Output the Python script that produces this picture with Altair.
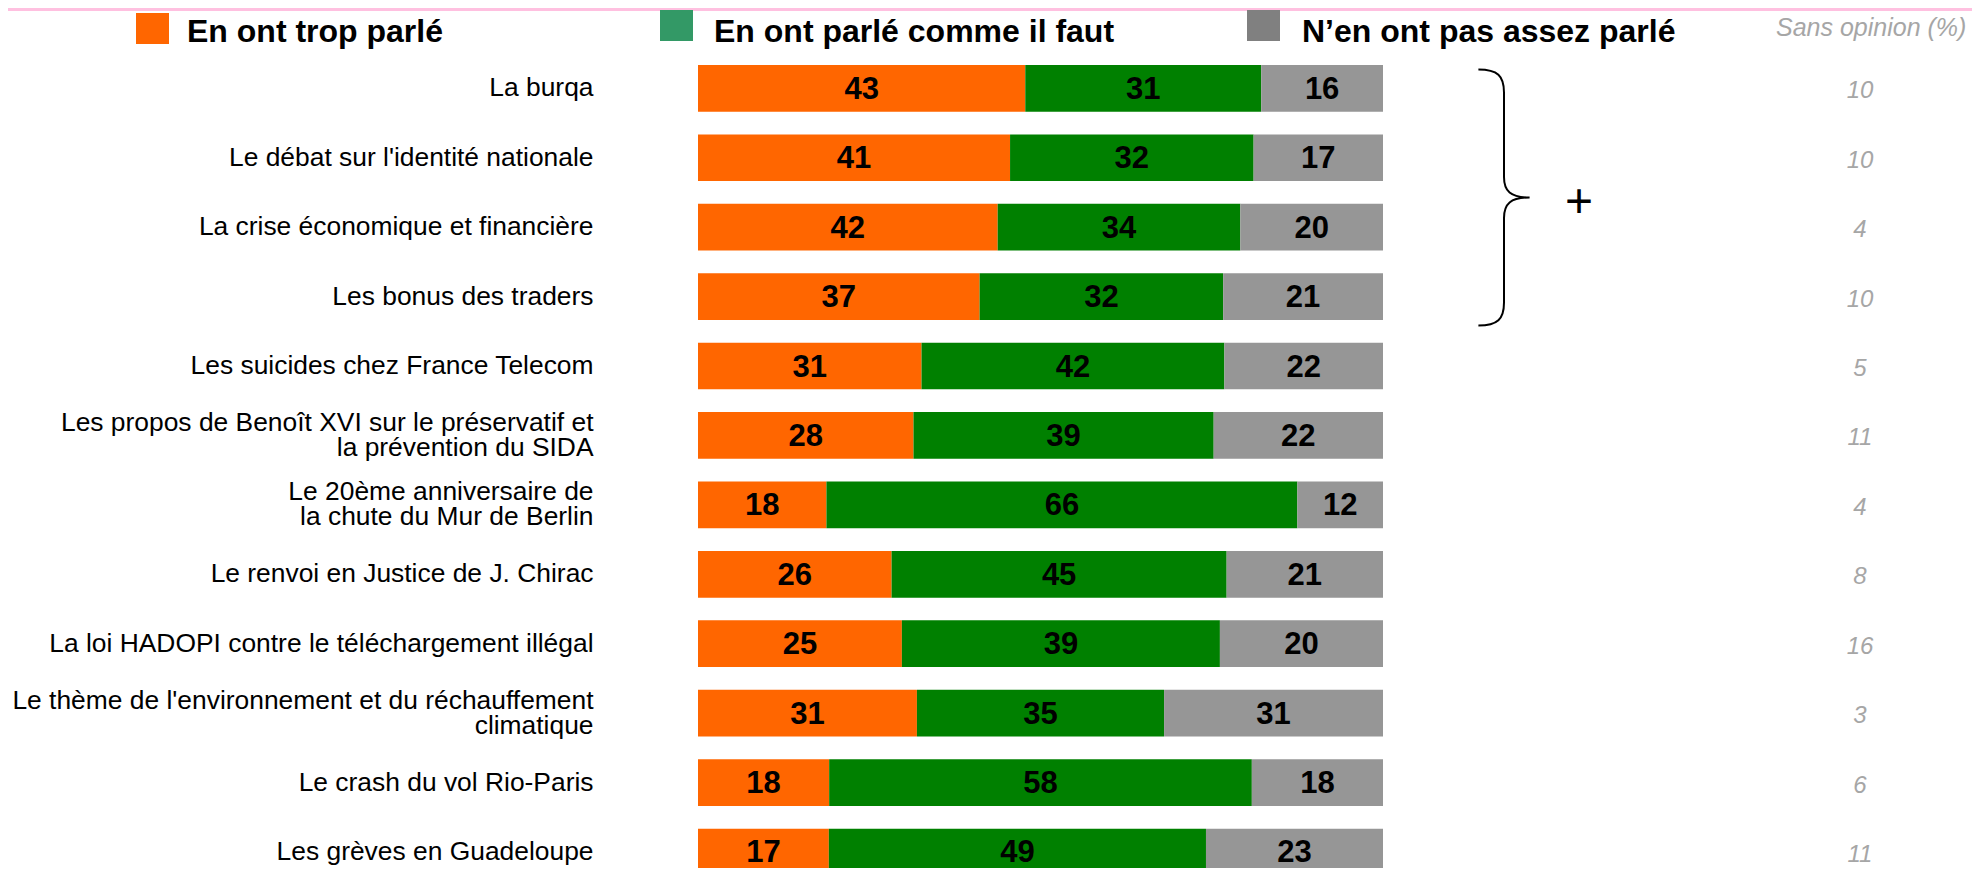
import altair as alt
import pandas as pd

# ---------------- data ----------------
categories = [
    "La burqa",
    "Le débat sur l'identité nationale",
    "La crise économique et financière",
    "Les bonus des traders",
    "Les suicides chez France Telecom",
    "Les propos de Benoît XVI sur le préservatif et\nla prévention du SIDA",
    "Le 20ème anniversaire de\nla chute du Mur de Berlin",
    "Le renvoi en Justice de J. Chirac",
    "La loi HADOPI contre le téléchargement illégal",
    "Le thème de l'environnement et du réchauffement\nclimatique",
    "Le crash du vol Rio-Paris",
    "Les grèves en Guadeloupe",
]
trop_parle = [43, 41, 42, 37, 31, 28, 18, 26, 25, 31, 18, 17]
comme_il_faut = [31, 32, 34, 32, 42, 39, 66, 45, 39, 35, 58, 49]
pas_assez = [16, 17, 20, 21, 22, 22, 12, 21, 20, 31, 18, 23]
sans_opinion = [10, 10, 4, 10, 5, 11, 4, 8, 16, 3, 6, 11]

series = ["En ont trop parlé", "En ont parlé comme il faut", "N\u2019en ont pas assez parlé"]
sans_title = "Sans opinion (%)"

bar_colors = ["#FF6600", "#008000", "#969696"]
legend_colors = ["#FF6600", "#339966", "#808080"]

rows = []
for i, c in enumerate(categories):
    for j, vals in enumerate([trop_parle, comme_il_faut, pas_assez]):
        rows.append({"cat": c, "serie": series[j], "ordre": j, "val": vals[i]})
long_df = pd.DataFrame(rows)
cat_df = pd.DataFrame({"cat": categories, "sans": sans_opinion})

FONT = "Liberation Sans"
W, H = 1964, 860

yscale = alt.Scale(domain=categories, range=[45.6, 878.7], paddingInner=0.327, paddingOuter=0.1635)
xscale = alt.Scale(domain=[0, 1], range=[690, 1375])

# ---------------- bars ----------------
base = alt.Chart(long_df).transform_stack(
    stack="val",
    as_=["v0", "v1"],
    groupby=["cat"],
    sort=[alt.SortField(field="ordre", order="ascending")],
    offset="normalize",
).transform_calculate(mid="(datum.v0 + datum.v1) / 2")

bars = base.mark_bar(strokeWidth=0).encode(
    x=alt.X("v0:Q", scale=xscale, axis=None),
    x2="v1:Q",
    y=alt.Y("cat:N", scale=yscale, axis=None),
    color=alt.Color("serie:N", scale=alt.Scale(domain=series, range=bar_colors), legend=None),
)

values = base.mark_text(
    font=FONT, fontSize=31, fontWeight="bold", color="black", baseline="middle", align="center", dy=1.5
).encode(
    x=alt.X("mid:Q", scale=xscale, axis=None),
    y=alt.Y("cat:N", scale=yscale, axis=None),
    text="val:Q",
)

label_style = dict(font=FONT, fontSize=26.4, align="right", baseline="middle", color="black")

labels_single = alt.Chart(cat_df).transform_filter(
    "indexof(datum.cat, '\\n') < 0"
).mark_text(**label_style).encode(
    x=alt.value(585.5),
    y=alt.Y("cat:N", scale=yscale, axis=None),
    text="cat:N",
)

labels_multi = alt.Chart(cat_df).transform_filter(
    "indexof(datum.cat, '\\n') >= 0"
).mark_text(lineBreak="\n", lineHeight=25, dy=-12.5, **label_style).encode(
    x=alt.value(585.5),
    y=alt.Y("cat:N", scale=yscale, axis=None),
    text="cat:N",
)

sans = alt.Chart(cat_df).mark_text(
    font=FONT, fontSize=24, fontStyle="italic", color="#A6A6A6", align="center", baseline="middle", dy=3
).encode(
    x=alt.value(1852),
    y=alt.Y("cat:N", scale=yscale, axis=None),
    text="sans:Q",
)

# ---------------- header / legend ----------------
pink = alt.Chart().mark_rect(color="#FFC0E0").encode(
    x=alt.value(0), x2=alt.value(W), y=alt.value(0), y2=alt.value(3)
)

legend_pos = [(128, 5), (652, 2), (1239, 2)]
legend_text_x = [179, 706, 1294]
legend_layers = []
for k in range(3):
    sx, sy = legend_pos[k]
    legend_layers.append(
        alt.Chart().mark_rect(color=legend_colors[k]).encode(
            x=alt.value(sx), x2=alt.value(sx + 33), y=alt.value(sy), y2=alt.value(sy + 31)
        )
    )
    legend_layers.append(
        alt.Chart().mark_text(
            font=FONT, fontSize=32, fontWeight="bold", color="black", align="left", baseline="alphabetic"
        ).encode(x=alt.value(legend_text_x[k]), y=alt.value(33.5), text=alt.value(series[k]))
    )

sans_head = alt.Chart().mark_text(
    font=FONT, fontSize=25, fontStyle="italic", color="#A6A6A6", align="left", baseline="alphabetic"
).encode(x=alt.value(1768), y=alt.value(28), text=alt.value(sans_title))

# ---------------- brace and plus ----------------
BRACE = (
    "M -0.2 -1 C -0.05 -1 0 -0.95 0 -0.82 L 0 -0.16 C 0 -0.05 0.05 0 0.2 0 "
    "C 0.05 0 0 0.05 0 0.16 L 0 0.82 C 0 0.95 -0.05 1 -0.2 1"
)
brace = alt.Chart().mark_point(
    shape=BRACE, size=256 ** 2, filled=False, stroke="black", strokeWidth=2, opacity=1
).encode(x=alt.value(1496), y=alt.value(189.5))

plus = alt.Chart().mark_text(
    font=FONT, fontSize=48, color="black", align="center", baseline="middle"
).encode(x=alt.value(1571), y=alt.value(195), text=alt.value("+"))

chart = alt.layer(
    pink, bars, values, labels_single, labels_multi, sans, *legend_layers, sans_head, brace, plus
).properties(
    width=W, height=H, autosize=alt.AutoSizeParams(type="none"), padding=0, background="white"
).configure_view(stroke=None)

chart.save("out.html", embed_options={"renderer": "svg", "actions": False})
